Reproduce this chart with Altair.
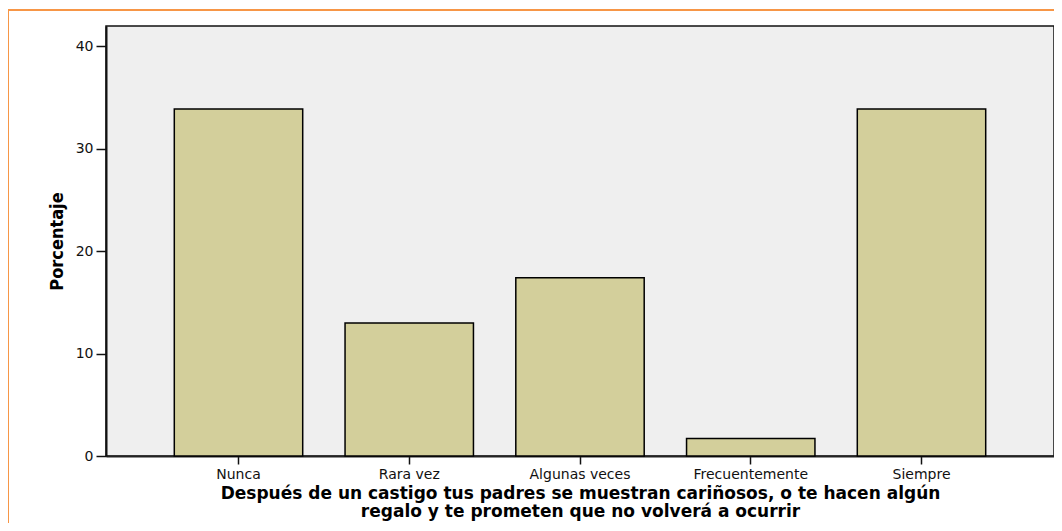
import altair as alt
import pandas as pd

categories = ["Nunca", "Rara vez", "Algunas veces", "Frecuentemente", "Siempre"]
percent = [33.9, 13.0, 17.4, 1.7, 33.9]
y_ticks = [0, 10, 20, 30, 40]

df = pd.DataFrame({"cat": categories, "pct": percent})
frame_df = pd.DataFrame({"k": [0]})

bars = alt.Chart(df).mark_bar(
    fill="#D3CF9B", stroke="#000000", strokeWidth=1.5
).encode(
    x=alt.X(
        "cat:N",
        sort=categories,
        scale=alt.Scale(paddingInner=0.248, paddingOuter=0.4),
        axis=alt.Axis(
            title=["Después de un castigo tus padres se muestran cariñosos, o te hacen algún",
                   "regalo y te prometen que no volverá a ocurrir"],
            titleFont="DejaVu Sans, sans-serif",
            titleFontSize=17,
            titleFontWeight="bold",
            titleColor="#000000",
            titleLineHeight=18,
            titlePadding=4,
            labelAngle=0,
            labelFont="DejaVu Sans, sans-serif",
            labelFontSize=14,
            labelColor="#111111",
            labelPadding=3,
            tickSize=8,
            tickColor="#111111",
            tickWidth=1.5,
            domainColor="#222222",
            domainWidth=2,
        ),
    ),
    y=alt.Y(
        "pct:Q",
        scale=alt.Scale(domain=[0, 42], nice=False),
        axis=alt.Axis(
            title="Porcentaje",
            values=y_ticks,
            grid=False,
            titleFont="DejaVu Sans Condensed, Liberation Sans, sans-serif",
            titleFontSize=18,
            titleFontWeight="bold",
            titleColor="#000000",
            titlePadding=9,
            labelFont="DejaVu Sans, sans-serif",
            labelFontSize=14,
            labelColor="#111111",
            labelPadding=3,
            tickSize=10,
            tickColor="#111111",
            tickWidth=1.5,
            domainColor="#111111",
            domainWidth=2,
        ),
    ),
)

frame = alt.Chart(frame_df).mark_rect(
    fill="transparent", stroke="#F79646", strokeWidth=2
).encode(
    x=alt.value(-98),
    x2=alt.value(1200),
    y=alt.value(-16),
    y2=alt.value(1200),
)

chart = alt.layer(bars, frame).properties(
    width=948,
    height=430,
    autosize=alt.AutoSizeParams(type="none"),
    padding={"left": 98, "top": 18, "right": 0, "bottom": 67},
).configure_view(
    fill="#EFEFEF", stroke="#111111", strokeWidth=1.5
)

chart.save("out.html", embed_options={"renderer": "svg", "actions": False})
